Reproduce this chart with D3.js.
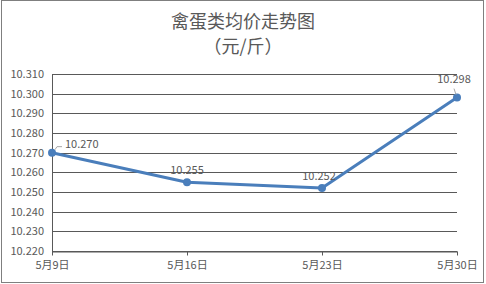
<!DOCTYPE html>
<html>
<head>
<meta charset="utf-8">
<script src="https://cdn.jsdelivr.net/npm/d3@7"></script>
<style>
  body { margin: 0; background: #fff; }
  text { font-family: "Microsoft YaHei", "Noto Sans CJK SC", "DejaVu Sans", sans-serif; fill: #595959; }
</style>
</head>
<body>
<div id="chart"></div>
<script>
var dates = ["5月9日", "5月16日", "5月23日", "5月30日"];
var prices = [10.270, 10.255, 10.252, 10.298];
var yTicks = [10.220, 10.230, 10.240, 10.250, 10.260, 10.270, 10.280, 10.290, 10.300, 10.310];

var svgWidth = 486;
var svgHeight = 284;

var margin = { top: 74, right: 29, bottom: 33, left: 52 };
var width = svgWidth - margin.left - margin.right;
var height = svgHeight - margin.top - margin.bottom;

var svg = d3.select("#chart")
    .append("svg")
    .attr("width", svgWidth)
    .attr("height", svgHeight);

// outer frame
svg.append("rect")
    .attr("x", 1.5).attr("y", 0.5)
    .attr("width", 482).attr("height", 282)
    .attr("fill", "#fff")
    .attr("stroke", "#7f7f7f")
    .attr("stroke-width", 1);

// title
svg.append("text")
    .attr("x", 243).attr("y", 28)
    .attr("text-anchor", "middle")
    .style("font-size", "18px")
    .text("禽蛋类均价走势图");
svg.append("text")
    .attr("x", 243).attr("y", 53)
    .attr("text-anchor", "middle")
    .style("font-size", "18px")
    .text("（元/斤）");

var chartGroup = svg.append("g")
    .attr("transform", `translate(${margin.left}, ${margin.top})`);

var xScale = d3.scalePoint()
    .domain(dates)
    .range([0, width]);

var yScale = d3.scaleLinear()
    .domain([10.220, 10.310])
    .range([height, 0]);

// gridlines
chartGroup.append("g")
    .selectAll("line")
    .data(yTicks)
    .enter()
    .append("line")
    .attr("x1", 0)
    .attr("x2", width)
    .attr("y1", d => Math.round(yScale(d)) + 0.5)
    .attr("y2", d => Math.round(yScale(d)) + 0.5)
    .attr("stroke", "#595959")
    .attr("stroke-width", 1);

// y axis
var leftAxis = d3.axisLeft(yScale)
    .tickValues(yTicks)
    .tickFormat(d3.format(".3f"))
    .tickSize(0)
    .tickPadding(8);
var yAxisG = chartGroup.append("g").call(leftAxis);
yAxisG.select(".domain").remove();
yAxisG.selectAll("text").style("font-size", "11px");

chartGroup.append("line")
    .attr("x1", 0.5).attr("x2", 0.5)
    .attr("y1", 0).attr("y2", height)
    .attr("stroke", "#595959");

// x axis
var bottomAxis = d3.axisBottom(xScale)
    .tickSize(4)
    .tickPadding(6)
    .tickSizeOuter(0);
var xAxisG = chartGroup.append("g")
    .attr("transform", `translate(0, ${Math.round(height) + 0.5})`)
    .call(bottomAxis);
xAxisG.select(".domain").attr("stroke", "#595959");
xAxisG.selectAll(".tick line").attr("stroke", "#595959");
xAxisG.selectAll("text").style("font-size", "11px").attr("fill", "#595959");

// line
var line = d3.line()
    .x((d, i) => xScale(dates[i]))
    .y(d => yScale(d));

chartGroup.append("path")
    .datum(prices)
    .attr("d", line)
    .attr("fill", "none")
    .attr("stroke", "#4a7ebb")
    .attr("stroke-width", 3)
    .attr("stroke-linejoin", "round");

chartGroup.selectAll("circle")
    .data(prices)
    .enter()
    .append("circle")
    .attr("cx", (d, i) => xScale(dates[i]))
    .attr("cy", d => yScale(d))
    .attr("r", 4)
    .attr("fill", "#4a7ebb");

// data labels
var labelOffsets = [
    { dx: 13, dy: -5, anchor: "start" },
    { dx: 0, dy: -8, anchor: "middle" },
    { dx: -3, dy: -8, anchor: "middle" },
    { dx: -3, dy: -15, anchor: "middle" }
];

chartGroup.selectAll(".dlabel")
    .data(prices)
    .enter()
    .append("text")
    .attr("class", "dlabel")
    .attr("x", (d, i) => xScale(dates[i]) + labelOffsets[i].dx)
    .attr("y", (d, i) => yScale(d) + labelOffsets[i].dy)
    .attr("text-anchor", (d, i) => labelOffsets[i].anchor)
    .style("font-size", "11px")
    .attr("fill", "#404040")
    .text(d => d3.format(".3f")(d));

// leader lines
var p0x = xScale(dates[0]), p0y = yScale(prices[0]);
chartGroup.append("path")
    .attr("d", `M${p0x + 3},${p0y - 3} L${p0x + 5},${p0y - 6} L${p0x + 10},${p0y - 6}`)
    .attr("fill", "none")
    .attr("stroke", "#a6a6a6");
var p3x = xScale(dates[3]), p3y = yScale(prices[3]);
chartGroup.append("line")
    .attr("x1", p3x - 3).attr("y1", p3y - 9)
    .attr("x2", p3x - 1).attr("y2", p3y - 3)
    .attr("stroke", "#a6a6a6");
</script>
</body>
</html>
